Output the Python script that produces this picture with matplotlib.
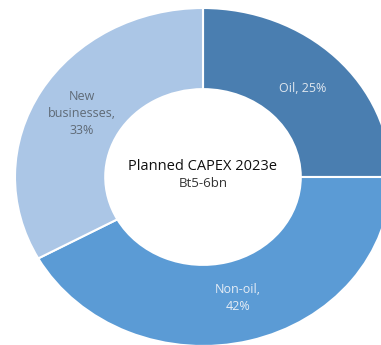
import numpy as np
import matplotlib
matplotlib.use('Agg')
import matplotlib.pyplot as plt

# capex split for 2023e
segments = ['Oil', 'Non-oil', 'New businesses']
shares = [25, 42, 33]
label_texts = ['Oil, 25%', 'Non-oil,\n42%', 'New\nbusinesses,\n33%']
colors = ['#4a7eb0', '#5b9bd5', '#abc6e6']
label_colors = ['#dfe6ee', '#e6edf5', '#5f6a76']

plt.rcParams['font.family'] = ['Open Sans', 'DejaVu Sans']

fig = plt.figure(figsize=(3.81, 3.45), dpi=100)
# the ring is slightly wider than tall and runs off the right and bottom edges
ax = fig.add_axes([15 / 381, -1 / 345, 376 / 381, 338 / 345])

wedges, _ = ax.pie(shares, colors=colors, startangle=90, counterclock=False,
                   radius=1.0, wedgeprops=dict(width=0.48, edgecolor='white', linewidth=1.5))

# slice labels centred in the ring
for w, txt, c in zip(wedges, label_texts, label_colors):
    mid = np.deg2rad((w.theta1 + w.theta2) / 2)
    ax.text(0.75 * np.cos(mid), 0.74 * np.sin(mid), txt, ha='center', va='center',
            fontsize=9, color=c, linespacing=1.4)

ax.text(0, 0.065, 'Planned CAPEX 2023e', ha='center', va='center', fontsize=10.5, color='#111111')
ax.text(0, -0.04, 'Bt5-6bn', ha='center', va='center', fontsize=9.5, color='#333333')

ax.set_aspect('auto')
ax.set_xlim(-1, 1)
ax.set_ylim(-1, 1)
ax.axis('off')

fig.savefig('out.png', dpi=100)
